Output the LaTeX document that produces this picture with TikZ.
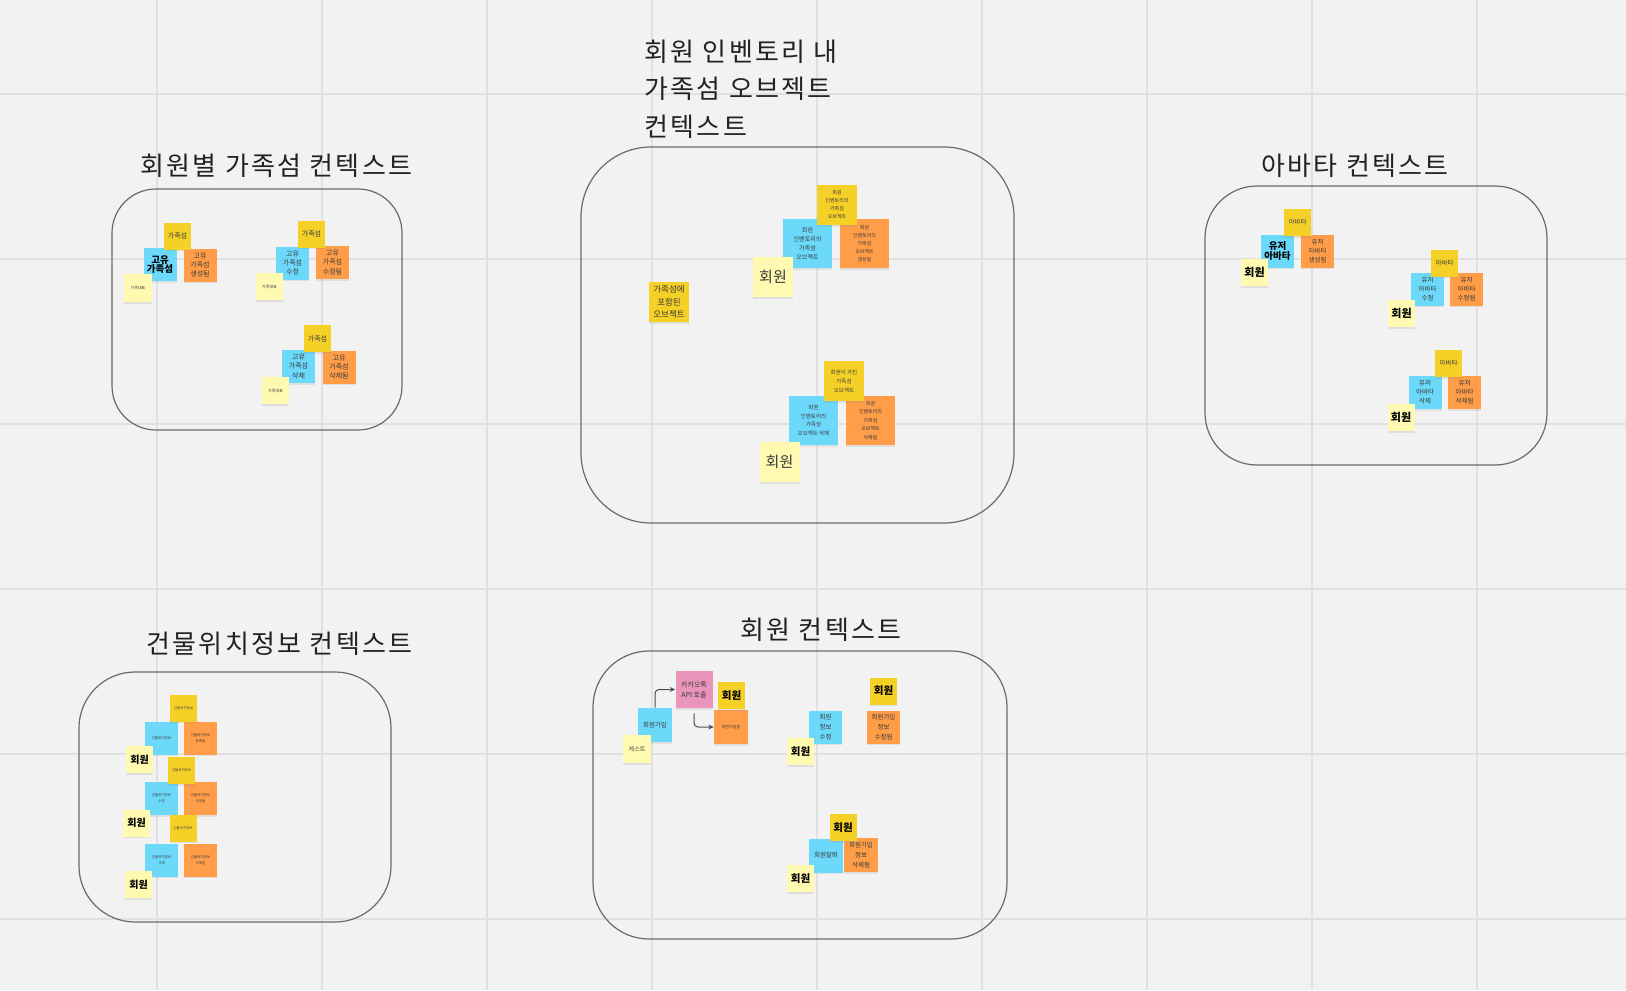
\documentclass[tikz,border=0pt]{standalone}
\usepackage{fontspec}
\setmainfont{Noto Sans CJK KR}
\newfontfamily\ttlfont[LetterSpace=9]{Noto Sans CJK KR}
\usetikzlibrary{shadows,arrows.meta}
\definecolor{bgc}{HTML}{F2F2F2}
\definecolor{gridc}{HTML}{E0E0E0}
\definecolor{boxc}{HTML}{6A6A6A}
\definecolor{stY}{HTML}{F5D128}
\definecolor{stB}{HTML}{6CD8FA}
\definecolor{stO}{HTML}{FF9D48}
\definecolor{stL}{HTML}{FFF9B1}
\definecolor{stP}{HTML}{EA94BB}
\definecolor{txt}{HTML}{3A3A3A}
\definecolor{ttl}{HTML}{222222}
\begin{document}
\begin{tikzpicture}[x=0.5pt,y=-0.5pt,
  st/.style={rectangle, inner sep=0pt, align=center, text=txt,
    minimum width=#1*0.5pt, minimum height=#1*0.5pt,
    drop shadow={shadow xshift=0pt, shadow yshift=-0.9pt, opacity=0.16}},
  sy/.style={st=#1, fill=stY},
  sb/.style={st=#1, fill=stB},
  so/.style={st=#1, fill=stO},
  sl/.style={st=#1, fill=stL},
  sp/.style={st=#1, fill=stP},
  fs/.style 2 args={font=\fontsize{#1pt}{#2pt}\selectfont},
  bd/.style={text=black, font=\fontsize{#1pt}{#1pt}\selectfont\bfseries},
  title/.style={inner sep=0pt, text=ttl, font=\ttlfont\fontsize{13pt}{18.75pt}\selectfont},
  ctx/.style={draw=boxc, line width=0.6pt},
  conn/.style={draw=black!70, line width=0.5pt, rounded corners=2pt, -{Stealth[length=2.6pt,width=2.4pt]}}
]
\useasboundingbox (0,0) rectangle (1626,990);
\fill[bgc] (0,0) rectangle (1626,990);
\foreach \gx in {157,322,487,652,817,982,1147,1312,1477}
  \draw[gridc, line width=0.65pt] (\gx,0) -- (\gx,990);
\foreach \gy in {94,259,424,589,754,919}
  \draw[gridc, line width=0.65pt] (0,\gy) -- (1626,\gy);

% context boxes
\draw[ctx, rounded corners=22pt] (112,189) rectangle (402,430);
\draw[ctx, rounded corners=35pt] (581,147) rectangle (1014,523);
\draw[ctx, rounded corners=26pt] (1205,186) rectangle (1547,465);
\draw[ctx, rounded corners=28pt] (79,672) rectangle (391,922);
\draw[ctx, rounded corners=28pt] (593,651) rectangle (1007,939);

% titles
\node[title, anchor=west] (t1) at (140,165.5) {회원별 가족섬 컨텍스트};
\node[title, anchor=north west, align=left] (t2) at (644,39.5) {회원 인벤토리 내\\가족섬 오브젝트\\컨텍스트};
\node[title, anchor=west] (t3) at (1261,165.5) {아바타 컨텍스트};
\node[title, anchor=west] (t4) at (146,644) {건물위치정보 컨텍스트};
\node[title, anchor=west] (t5) at (740,629.5) {회원 컨텍스트};

% ---- 회원별 가족섬 컨텍스트
\node[sb=33, bd=4.75, align=center] (b1) at (160,264.5) {\fontsize{4.75pt}{5.85pt}\selectfont 고유\\가족섬};
\node[so=33, fs={3.5}{4.65}] (o1) at (200,265) {고유\\가족섬\\생성됨};
\node[sy=27, fs={3.5}{4.5}] (y1) at (177.5,236) {가족섬};
\node[sl=28, fs={2}{2.5}] (l1) at (138,288) {가족대표};

\node[sb=33, fs={3.5}{4.65}] (b2) at (292.5,263) {고유\\가족섬\\수정};
\node[so=33, fs={3.5}{4.65}] (o2) at (332.5,262.5) {고유\\가족섬\\수정됨};
\node[sy=27, fs={3.5}{4.5}] (y2) at (311.5,234) {가족섬};
\node[sl=27, fs={2}{2.5}] (l2) at (269.5,286.5) {가족대표};

\node[sb=33, fs={3.5}{4.65}] (b3) at (298.5,366.5) {고유\\가족섬\\삭제};
\node[so=33, fs={3.5}{4.65}] (o3) at (339,367) {고유\\가족섬\\삭제됨};
\node[sy=27, fs={3.5}{4.5}] (y3) at (317.5,338.5) {가족섬};
\node[sl=27, fs={2}{2.5}] (l3) at (275.5,390.5) {가족대표};

% ---- 회원 인벤토리 내 가족섬 오브젝트 컨텍스트
\node[sy=40, fs={4.25}{6.35}] (yi0) at (669,302) {가족섬에\\포함된\\오브젝트};
\node[sb=49, fs={3}{4.5}] (bi1) at (807.5,243.5) {회원\\인벤토리의\\가족섬\\오브젝트};
\node[so=49, fs={2.5}{4}] (oi1) at (864.5,243.5) {회원\\인벤토리의\\가족섬\\오브젝트\\생성됨};
\node[sy=40, fs={2.5}{4}] (yi1) at (837,205) {회원\\인벤토리의\\가족섬\\오브젝트};
\node[sl=40, fs={7.5}{9}] (li1) at (773,277) {회원};

\node[sb=49, fs={2.75}{4.4}] (bi2) at (813.5,420.5) {회원\\인벤토리의\\가족섬\\오브젝트 삭제};
\node[so=49, fs={2.5}{4.2}] (oi2) at (870.5,420.5) {회원\\인벤토리의\\가족섬\\오브젝트\\삭제됨};
\node[sy=40, fs={2.75}{4.5}] (yi2) at (844,381) {회원이 가진\\가족섬\\오브젝트};
\node[sl=40, fs={7.5}{9}] (li2) at (779.5,462) {회원};

% ---- 아바타 컨텍스트
\node[sb=33, bd=4.75] (ba1) at (1277.5,251) {\fontsize{4.75pt}{5.85pt}\selectfont 유저\\아바타};
\node[so=33, fs={3.25}{4.5}] (oa1) at (1317.5,251) {유저\\아바타\\생성됨};
\node[sy=27, fs={3.25}{4}] (ya1) at (1297.5,222.5) {아바타};
\node[sl=27, bd=5.5] (la1) at (1254.5,272.5) {회원};

\node[sb=33, fs={3.25}{4.5}] (ba2) at (1427.5,289) {유저\\아바타\\수정};
\node[so=33, fs={3.25}{4.5}] (oa2) at (1466.5,289) {유저\\아바타\\수정됨};
\node[sy=27, fs={3.25}{4}] (ya2) at (1444.5,263) {아바타};
\node[sl=27, bd=5.5] (la2) at (1401.5,313.5) {회원};

\node[sb=33, fs={3.25}{4.5}] (ba3) at (1425,392.5) {유저\\아바타\\삭제};
\node[so=33, fs={3.25}{4.5}] (oa3) at (1464.5,392.5) {유저\\아바타\\삭제됨};
\node[sy=27, fs={3.25}{4}] (ya3) at (1448.5,363.5) {아바타};
\node[sl=27, bd=5.5] (la3) at (1401,417.5) {회원};

% ---- 건물위치정보 컨텍스트
\node[sb=33, fs={1.75}{3}] (bg1) at (161.5,738) {건물위치정보};
\node[so=33, fs={1.75}{3}] (og1) at (200.5,738) {건물위치정보\\등록됨};
\node[sy=27, fs={1.7}{2.5}] (yg1) at (183.5,708) {건물위치정보};
\node[sl=27, bd=5] (lg1) at (139.5,759.5) {회원};

\node[sb=33, fs={1.75}{3}] (bg2) at (161.5,798.5) {건물위치정보\\수정};
\node[so=33, fs={1.75}{3}] (og2) at (200.5,798.5) {건물위치정보\\수정됨};
\node[sy=27, fs={1.7}{2.5}] (yg2) at (181.5,770.5) {건물위치정보};
\node[sl=27, bd=5] (lg2) at (136.5,823) {회원};

\node[sb=33, fs={1.75}{3}] (bg3) at (161.5,860) {건물위치정보\\삭제};
\node[so=33, fs={1.75}{3}] (og3) at (200.5,860) {건물위치정보\\삭제됨};
\node[sy=27, fs={1.7}{2.5}] (yg3) at (183,828) {건물위치정보};
\node[sl=27, bd=5] (lg3) at (138.5,884.5) {회원};

% ---- 회원 컨텍스트
\node[sp=37, fs={3.5}{5}] (pk) at (694,689.5) {카카오톡\\API 호출};
\node[so=34, fs={2}{3}] (om1) at (731,727) {회원가입됨};
\node[sy=27, bd=5.25] (ym1) at (731.5,695.5) {회원};
\node[sb=34, fs={3.25}{4.5}] (bm1) at (655,725) {회원가입};
\node[sl=28, fs={3}{4}] (lm1) at (637,749) {게스트};
\draw[conn] (bm1.north) |- (pk.west);
\draw[conn, shorten <=2.5pt] (pk.south) |- (om1.west);

\node[sb=33, fs={3.25}{5}] (bm2) at (825.5,727) {회원\\정보\\수정};
\node[so=33, fs={3.25}{5}] (om2) at (883.5,727) {회원가입\\정보\\수정됨};
\node[sy=27, bd=5.25] (ym2) at (883.5,691) {회원};
\node[sl=27, bd=5.25] (lm2) at (800.5,751.5) {회원};

\node[sb=34, fs={3.25}{4.5}] (bm3) at (826,855.5) {회원탈퇴};
\node[so=34, fs={3.25}{5}] (om3) at (861,855) {회원가입\\정보\\삭제됨};
\node[sy=27, bd=5.25] (ym3) at (843,827.5) {회원};
\node[sl=27, bd=5.25] (lm3) at (800.5,878.5) {회원};
\end{tikzpicture}
\end{document}
